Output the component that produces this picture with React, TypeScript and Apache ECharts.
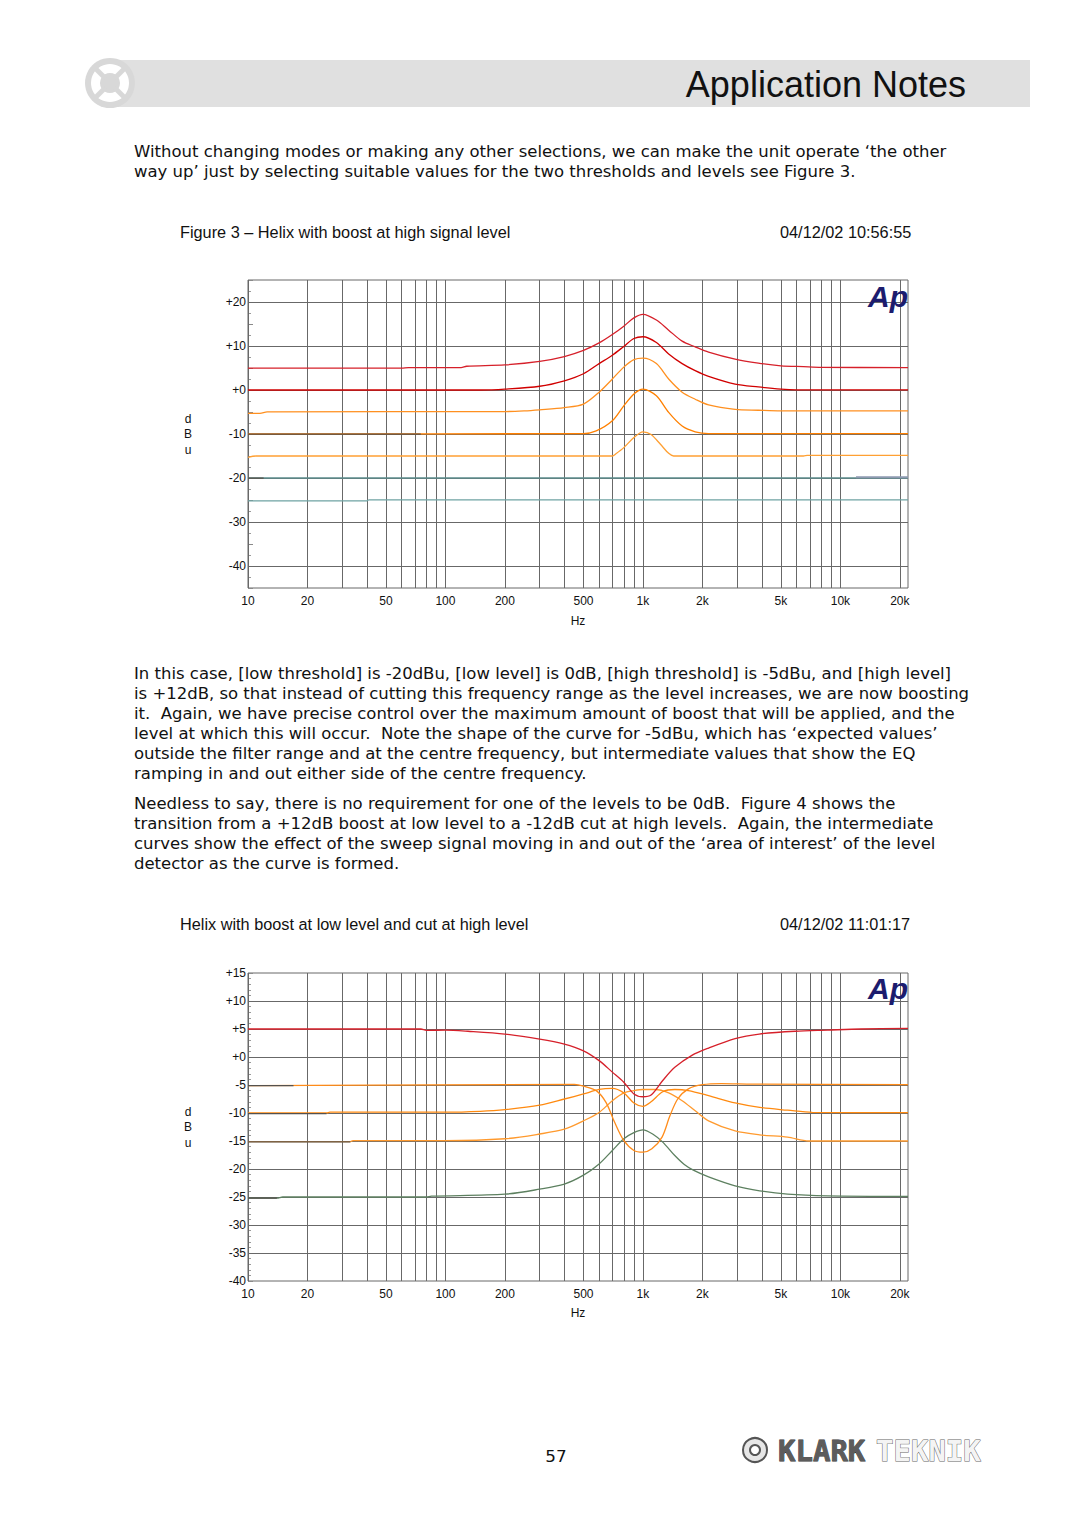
import React, { useEffect, useRef } from 'react';
import * as echarts from 'echarts';

// ---------------- Data ----------------
const FREQ_MIN = 10;
const FREQ_MAX = 22000;
const FREQ_GRID = [10, 20, 30, 40, 50, 60, 70, 80, 90, 100, 200, 300, 400, 500, 600, 700, 800, 900,
  1000, 2000, 3000, 4000, 5000, 6000, 7000, 8000, 9000, 10000, 20000];
const FREQ_TICKS = [10, 20, 50, 100, 200, 500, 1000, 2000, 5000, 10000, 20000];
const FREQ_TICK_LABELS = ['10', '20', '50', '100', '200', '500', '1k', '2k', '5k', '10k', '20k'];

const FIG3_Y_RANGE = [-45, 25];
const FIG3_Y_GRID = [-40, -30, -20, -10, 0, 10, 20];
const FIG4_Y_RANGE = [-40, 15];
const FIG4_Y_GRID = [-35, -30, -25, -20, -15, -10, -5, 0, 5, 10];

// Figure 3 traces [Hz, dBu]
const fig3Red1 = [[10, 4.95], [60, 4.95], [65, 5.1], [120, 5.1], [128, 5.4], [200, 5.7], [300, 6.5], [400, 7.6],
  [500, 9.0], [600, 10.7], [700, 12.6], [800, 14.5], [900, 16.4], [1000, 17.2], [1170, 15.9], [1350, 13.6],
  [1580, 11.1], [1840, 9.8], [2150, 8.6], [2930, 7.0], [3840, 6.1], [5000, 5.5], [6500, 5.3], [8000, 5.15], [22000, 5.1]];
const fig3Red2 = [[10, 0], [150, 0], [200, 0.2], [300, 0.85], [400, 2.1], [500, 3.7], [600, 6.0], [700, 7.9],
  [800, 9.9], [900, 11.7], [1000, 12.1], [1170, 10.8], [1350, 8.2], [1580, 6.0], [1840, 4.4], [2150, 3.1],
  [2930, 1.35], [3840, 0.7], [5000, 0.2], [6000, 0.05], [22000, 0.05]];
const fig3Orange1 = [[10, -5.3], [11.5, -5.3], [12.5, -4.95], [200, -4.9], [250, -4.75], [300, -4.5], [400, -4.0],
  [500, -3.2], [600, -0.5], [700, 2.5], [800, 5.2], [900, 6.9], [1000, 7.25], [1170, 6.0], [1350, 2.5],
  [1580, -0.5], [1840, -2.1], [2150, -3.4], [2930, -4.4], [3840, -4.6], [5000, -4.75], [22000, -4.75]];
const fig3Orange2 = [[10, -10], [500, -9.9], [580, -9.3], [700, -7.0], [800, -3.6], [900, -0.9], [1000, 0.2],
  [1170, -1.3], [1350, -5.1], [1580, -8.2], [1840, -9.5], [2150, -9.9], [22000, -9.9]];
const fig3Orange3 = [[10, -15.3], [11, -15.0], [700, -15.0], [730, -14.5], [800, -13.1], [900, -10.8], [1000, -9.5],
  [1100, -10.1], [1230, -12.4], [1350, -14.4], [1430, -15.0], [6500, -15.0], [6800, -14.85], [22000, -14.85]];
const fig3Teal1 = [[10, -20], [22000, -20]];
const fig3Teal1Tail = [[12000, -19.85], [22000, -19.85]];
const fig3Teal2 = [[10, -25.2], [40, -25.2], [41, -24.95], [22000, -24.95]];
const fig3DarkSegs = [[[10, -10.05], [75, -10.05]], [[10, -20.05], [12, -20.05]]];

// Figure 4 traces [Hz, dBu]
const fig4Red = [[10, 5], [75, 5], [80, 4.75], [100, 4.8], [130, 4.6], [200, 4.1], [300, 3.2], [400, 2.3],
  [500, 1.1], [600, -0.65], [700, -2.7], [800, -4.5], [900, -6.6], [1000, -7.1], [1100, -6.8], [1260, -4.2],
  [1450, -1.85], [1770, 0.3], [2150, 1.6], [2930, 3.3], [3880, 4.1], [5900, 4.6], [8600, 4.8], [12700, 5.0], [22000, 5.1]];
const fig4OrangeA = [[10, -5.1], [450, -4.9], [500, -5.2], [580, -6.0], [650, -8.1], [720, -11.7], [800, -14.9],
  [900, -16.7], [1000, -17.0], [1110, -16.4], [1250, -14.3], [1370, -10.5], [1500, -7.5], [1700, -5.7],
  [2000, -4.95], [2500, -4.75], [3600, -4.85], [22000, -4.95]];
const fig4OrangeB = [[10, -10], [25, -10], [26, -9.85], [100, -9.85], [150, -9.7], [200, -9.4], [300, -8.6],
  [400, -7.5], [500, -6.6], [600, -5.8], [700, -5.6], [800, -6.4], [900, -8.2], [1000, -8.8], [1100, -8.0],
  [1260, -6.2], [1450, -5.8], [1700, -6.0], [2150, -6.9], [2930, -8.2], [3900, -9.0], [5400, -9.5], [7200, -9.9], [22000, -9.95]];
const fig4OrangeC = [[10, -15.1], [33, -15.1], [34, -14.95], [100, -14.95], [200, -14.6], [300, -13.75], [400, -12.9],
  [500, -11.4], [600, -9.9], [700, -7.8], [800, -6.4], [900, -6.0], [1000, -5.8], [1150, -5.8], [1350, -6.4],
  [1580, -7.8], [1840, -9.6], [2150, -11.4], [2930, -13.2], [3900, -13.9], [5400, -14.3], [6900, -15.0], [22000, -15.0]];
const fig4Green = [[10, -25.2], [14, -25.2], [15, -25], [80, -25], [85, -24.85], [200, -24.5], [300, -23.6],
  [400, -22.7], [500, -21.1], [600, -19.1], [700, -16.7], [800, -14.6], [900, -13.5], [1000, -13.0], [1120, -13.75],
  [1260, -15.2], [1450, -17.6], [1620, -19.2], [1800, -20.2], [2150, -21.4], [2930, -23.0], [3900, -23.9], [5400, -24.5],
  [8600, -24.8], [22000, -24.9]];
const fig4DarkSegs = [[[10, -5.1], [17, -5.1]], [[10, -10.1], [25, -10.1]], [[10, -15.15], [33, -15.15]], [[10, -25.2], [14, -25.2]]];

// Texts
const HEADER_TITLE = 'Application Notes';
const PARA_1 = [
  'Without changing modes or making any other selections, we can make the unit operate \u2018the other',
  'way up\u2019 just by selecting suitable values for the two thresholds and levels see Figure 3.',
];
const PARA_2 = [
  'In this case, [low threshold] is -20dBu, [low level] is 0dB, [high threshold] is -5dBu, and [high level]',
  'is +12dB, so that instead of cutting this frequency range as the level increases, we are now boosting',
  'it.  Again, we have precise control over the maximum amount of boost that will be applied, and the',
  'level at which this will occur.  Note the shape of the curve for -5dBu, which has \u2018expected values\u2019',
  'outside the filter range and at the centre frequency, but intermediate values that show the EQ',
  'ramping in and out either side of the centre frequency.',
];
const PARA_3 = [
  'Needless to say, there is no requirement for one of the levels to be 0dB.  Figure 4 shows the',
  'transition from a +12dB boost at low level to a -12dB cut at high levels.  Again, the intermediate',
  'curves show the effect of the sweep signal moving in and out of the \u2018area of interest\u2019 of the level',
  'detector as the curve is formed.',
];
const FIG3_TITLE = 'Figure 3 \u2013 Helix with boost at high signal level';
const FIG3_DATE = '04/12/02 10:56:55';
const FIG4_TITLE = 'Helix with boost at low level and cut at high level';
const FIG4_DATE = '04/12/02 11:01:17';
const PAGE_NUMBER = '57';

// ---------------- Styles ----------------
const FONT = "'Liberation Sans', Arial, sans-serif";
const BODY_FONT = "'DejaVu Sans', Verdana, sans-serif";
const MONO_FONT = "'DejaVu Sans Mono', monospace";
const GRID_COLOR = '#686868';
const TEXT_COLOR = '#111111';
const BODY_SCALE_X = 1.1;

function fmtDb(v: number) {
  if (v > 0) return '+' + v;
  if (v === 0) return '+0';
  return String(v);
}

function gridSeries(gi: number, yGrid: number[]) {
  const xItems = FREQ_GRID.map((f) => {
    const idx = FREQ_TICKS.indexOf(f);
    return {
      xAxis: f,
      label: idx >= 0
        ? { show: true, position: 'start', formatter: FREQ_TICK_LABELS[idx], distance: 7, color: TEXT_COLOR, fontSize: 12, fontFamily: FONT }
        : { show: false },
    };
  });
  const yItems = yGrid.map((v) => ({ yAxis: v, label: { show: false } }));
  return {
    type: 'line',
    xAxisIndex: gi,
    yAxisIndex: gi,
    data: [],
    symbol: 'none',
    silent: true,
    z: 1,
    markLine: {
      z: 1,
      silent: true,
      animation: false,
      symbol: ['none', 'none'],
      lineStyle: { color: GRID_COLOR, width: 1, type: 'solid' },
      label: { show: false },
      emphasis: { disabled: true },
      data: [...xItems, ...yItems],
    },
  };
}

function trace(gi: number, data: number[][], color: string, width = 1.3, z = 3) {
  return {
    type: 'line',
    xAxisIndex: gi,
    yAxisIndex: gi,
    data,
    symbol: 'none',
    showSymbol: false,
    smooth: 0.3,
    silent: true,
    z,
    lineStyle: { color, width },
    itemStyle: { color },
    emphasis: { disabled: true },
  };
}

function xAxisDef(gi: number) {
  return {
    type: 'log',
    logBase: 10,
    gridIndex: gi,
    min: FREQ_MIN,
    max: FREQ_MAX,
    axisLine: { show: false },
    axisTick: { show: false },
    axisLabel: { show: false },
    splitLine: { show: false },
    minorTick: { show: false },
    minorSplitLine: { show: false },
  };
}

function yAxisDef(gi: number, range: number[], onlyTens: boolean, minorSplit: number) {
  return {
    type: 'value',
    gridIndex: gi,
    min: range[0],
    max: range[1],
    interval: 5,
    axisLine: { show: false },
    axisTick: { show: true, inside: true, length: 5, lineStyle: { color: '#8a8a8a', width: 1 } },
    minorTick: { show: true, splitNumber: minorSplit, length: 3, lineStyle: { color: '#9a9a9a', width: 1 } },
    splitLine: { show: false },
    axisLabel: {
      margin: 2,
      color: TEXT_COLOR,
      fontSize: 12,
      fontFamily: FONT,
      formatter: (v: number) => (onlyTens && v % 10 !== 0) ? '' : fmtDb(v),
    },
  };
}

function txt(x: number, y: number, text: string, font: string, align = 'left', vAlign = 'middle', extra: any = {}, el: any = {}) {
  return {
    type: 'text',
    x,
    y,
    silent: true,
    z: 10,
    ...el,
    style: {
      text,
      font,
      fill: TEXT_COLOR,
      align,
      textAlign: align,
      verticalAlign: vAlign,
      textVerticalAlign: vAlign,
      ...extra,
    },
  };
}

function buildOption() {
  const series: any[] = [
    gridSeries(0, FIG3_Y_GRID),
    trace(0, fig3Teal2, '#6fa3a3'),
    trace(0, fig3Teal1, '#5b8c8c'),
    trace(0, fig3Teal1Tail, '#8d9ab0', 2),
    trace(0, fig3Orange3, '#ffa033'),
    trace(0, fig3Orange2, '#ff8000'),
    trace(0, fig3Orange1, '#ff9020'),
    trace(0, fig3Red2, '#d10000'),
    trace(0, fig3Red1, '#d6202a'),
    ...fig3DarkSegs.map((s) => trace(0, s, '#5a5048', 1.3, 4)),
    gridSeries(1, FIG4_Y_GRID),
    trace(1, fig4Green, '#5d8060'),
    trace(1, fig4OrangeC, '#ff9a2e'),
    trace(1, fig4OrangeB, '#ff8a10'),
    trace(1, fig4OrangeA, '#ff8c1a'),
    trace(1, fig4Red, '#d6202a'),
    ...fig4DarkSegs.map((s) => trace(1, s, '#55514d', 1.3, 4)),
  ];

  const apStyle = { fill: '#1c1c6e' };
  const bodyEl = { scaleX: BODY_SCALE_X };
  const graphic: any[] = [
    // header band + logo
    { type: 'rect', silent: true, z: 1, shape: { x: 110, y: 60, width: 920, height: 47 }, style: { fill: '#e0e0e0' } },
    { type: 'circle', silent: true, z: 2, shape: { cx: 110, cy: 83, r: 25 }, style: { fill: '#d8d8d8' } },
    { type: 'ring', silent: true, z: 3, shape: { cx: 110, cy: 83, r: 19, r0: 10 }, style: { fill: '#ffffff' } },
    { type: 'line', silent: true, z: 4, shape: { x1: 96, y1: 69, x2: 124, y2: 97 }, style: { stroke: '#d8d8d8', lineWidth: 5 } },
    { type: 'line', silent: true, z: 4, shape: { x1: 124, y1: 69, x2: 96, y2: 97 }, style: { stroke: '#d8d8d8', lineWidth: 5 } },
    { type: 'circle', silent: true, z: 5, shape: { cx: 110, cy: 83, r: 7 }, style: { fill: '#d8d8d8' } },
    txt(966, 84, HEADER_TITLE, '36px ' + FONT, 'right', 'middle'),
    // paragraphs
    txt(134, 142, PARA_1.join('\n'), '15px ' + BODY_FONT, 'left', 'top', { lineHeight: 20 }, bodyEl),
    txt(134, 664, PARA_2.join('\n'), '15px ' + BODY_FONT, 'left', 'top', { lineHeight: 20 }, bodyEl),
    txt(134, 794, PARA_3.join('\n'), '15px ' + BODY_FONT, 'left', 'top', { lineHeight: 20 }, bodyEl),
    // figure 3 annotations
    txt(180, 232, FIG3_TITLE, '16.3px ' + FONT),
    txt(780, 232, FIG3_DATE, '16.3px ' + FONT),
    txt(188, 411, 'd\nB\nu', '12px ' + FONT, 'center', 'top', { lineHeight: 15.5 }),
    txt(578, 621, 'Hz', '12px ' + FONT, 'center', 'middle'),
    txt(888, 296, 'Ap', 'italic bold 30px ' + FONT, 'center', 'middle', apStyle),
    // figure 4 annotations
    txt(180, 924, FIG4_TITLE, '16.3px ' + FONT),
    txt(780, 924, FIG4_DATE, '16.3px ' + FONT),
    txt(188, 1104, 'd\nB\nu', '12px ' + FONT, 'center', 'top', { lineHeight: 15.5 }),
    txt(578, 1313, 'Hz', '12px ' + FONT, 'center', 'middle'),
    txt(888, 988, 'Ap', 'italic bold 30px ' + FONT, 'center', 'middle', apStyle),
    // footer
    txt(556, 1457, PAGE_NUMBER, '16px ' + BODY_FONT, 'center', 'middle', {}, { scaleX: 1.05 }),
    { type: 'circle', silent: true, z: 5, shape: { cx: 755, cy: 1450, r: 12 }, style: { fill: '#e6e6e6', stroke: '#555', lineWidth: 2 } },
    { type: 'circle', silent: true, z: 6, shape: { cx: 755, cy: 1450, r: 5 }, style: { fill: '#fff', stroke: '#555', lineWidth: 2 } },
    txt(778, 1451, 'KLARK', 'bold 29px ' + MONO_FONT, 'left', 'middle', { fill: '#5c5c5c', stroke: '#333', lineWidth: 0.8 }),
    txt(876, 1451, 'TEKNIK', 'bold 29px ' + MONO_FONT, 'left', 'middle', { fill: '#f4f4f4', stroke: '#666', lineWidth: 1 }),
  ];

  return {
    animation: false,
    backgroundColor: '#ffffff',
    textStyle: { fontFamily: FONT },
    grid: [
      { left: 248, top: 280, width: 660, height: 308, show: true, borderColor: GRID_COLOR, borderWidth: 1, backgroundColor: 'transparent', containLabel: false, outerBoundsMode: 'none' },
      { left: 248, top: 973, width: 660, height: 308, show: true, borderColor: GRID_COLOR, borderWidth: 1, backgroundColor: 'transparent', containLabel: false, outerBoundsMode: 'none' },
    ],
    xAxis: [xAxisDef(0), xAxisDef(1)],
    yAxis: [yAxisDef(0, FIG3_Y_RANGE, true, 2), yAxisDef(1, FIG4_Y_RANGE, false, 5)],
    series,
    graphic: { elements: graphic },
  };
}

export default function App() {
  const ref = useRef<HTMLDivElement>(null);
  useEffect(() => {
    if (!ref.current) return;
    const chart = echarts.init(ref.current, undefined, { renderer: 'svg' });
    chart.setOption(buildOption() as any);
    return () => chart.dispose();
  }, []);
  return (
    <div
      ref={ref}
      style={{ position: 'absolute', left: 0, top: 0, width: 1080, height: 1528, background: '#fff' }}
    />
  );
}
